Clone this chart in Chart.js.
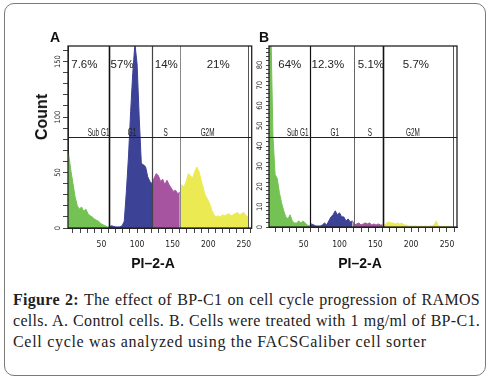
<!DOCTYPE html>
<html><head><meta charset="utf-8">
<script src="https://cdn.jsdelivr.net/npm/chart.js@4.4.1/dist/chart.umd.min.js"></script>
<style>
html,body{margin:0;padding:0;background:#fff;}
#fig{position:relative;width:489px;height:380px;overflow:hidden;background:#fff;font-family:"Liberation Sans",Arial,sans-serif;color:#111;}
#frame{position:absolute;left:4px;top:3px;width:480px;height:371px;border:1.5px solid #7a7a7a;border-radius:10px;}
canvas{position:absolute;top:0;}
#cA{left:0;} #cB{left:240px;}
.panel{position:absolute;font-weight:bold;font-size:14px;line-height:14px;}
.xt{position:absolute;top:255px;font-weight:bold;font-size:14px;line-height:16px;transform:translateX(-50%);white-space:nowrap;}
#count{position:absolute;left:42px;top:117px;transform:translate(-50%,-50%) rotate(-90deg);font-weight:bold;font-size:16px;line-height:16px;white-space:nowrap;}
#cap{position:absolute;left:13px;top:289px;width:467px;font-family:"Liberation Serif","Times New Roman",serif;font-size:16px;letter-spacing:0.3px;line-height:21px;color:#222;}
#cap div{white-space:nowrap;}
#cap .j{text-align:justify;text-align-last:justify;}
#cap .l3{letter-spacing:0.7px;}
</style></head>
<body>
<div id="fig">
  <div id="frame"></div>
  <canvas id="cA" width="258" height="280"></canvas>
  <canvas id="cB" width="249" height="280"></canvas>
  <div class="panel" style="left:50px;top:30px;">A</div>
  <div class="panel" style="left:259px;top:30px;">B</div>
  <div id="count">Count</div>
  <div class="xt" style="left:153px;">PI–2-A</div>
  <div class="xt" style="left:360px;">PI–2-A</div>
  <div id="cap">
    <div class="j"><b>Figure 2:</b> The effect of BP-C1 on cell cycle progression of RAMOS</div>
    <div class="j">cells. A. Control cells. B. Cells were treated with 1 mg/ml of BP-C1.</div>
    <div class="l3">Cell cycle was analyzed using the FACSCaliber cell sorter</div>
  </div>
</div>
<script>
// ---- data ----
const channels = [1,4,7,10,13,16,19,22,25,28,
  31,34,37,40,43,46,49,52,55,58,
  61,64,67,70,73,76,79,82,85,88,
  91,94,97,100,103,106,109,112,115,118,
  121,124,127,130,133,136,139,142,145,148,
  151,154,157,160,163,166,169,172,175,178,
  181,184,187,190,193,196,199,202,205,208,
  211,214,217,220,223,226,229,232,235,238,
  241,244,247,250,253,256];
const countsA = [50,66,52,40,28,20,17,19,15,17,
  13,11,10,8,7,6,4,3,2,1,
  1,2,1.5,1,1,1,2,6,33,65,
  105,140,166,148,100,58,57,55,46,42,
  40,45,49,47,42,44,39,43,39,36,
  33,34,31,32,39,37,42,49,47,45,
  51,55,51,43,36,29,26,22,16,12,
  10,11,10,12,11,12,13,11,12,13,
  14,12,13,14,11,10];
const countsB = [100,100,45,26,24,17,12,8,5,4,
  6,3,2,2,3,2,3,2,1,0.5,
  1.5,1,0.5,0.5,0.5,1,2,1,3,5,
  6,8,6,7,5,5,3,4,2.5,3,
  1,1.5,2,1,1.5,2,1.5,2,1,1.5,
  1,1.5,1,1,1,2,2.5,2,2,1.5,
  2,1.5,2,1,1,0.5,0.5,0.5,0.5,0.5,
  0.3,0.5,0.3,0.5,0.3,0.5,0.5,1,3,0.5,
  0.3,0.3,0.3,0.3,0.3,0.3];
const gateNames = ['Sub G1','G1','S','G2M'];
const gatesA = [61.1,121.3,160.7];
const gatesB = [58.5,120.4,161];
const gateLevelA = 82;
const gateLevelB = 44.6;
const percentA = ['7.6%','57%','14%','21%'];
const percentB = ['64%','12.3%','5.1%','5.7%'];
const xTickLabels = [50,100,150,200,250];
const yTickLabelsA = [0,50,100,150];
const yTickLabelsB = [0,10,20,30,40,50,60,70,80];

// ---- styling ----
const gateColors = ['rgb(116,194,84)','rgb(60,66,150)','rgb(166,84,160)','rgb(236,234,82)'];
const narrow = "'Liberation Sans Narrow','DejaVu Sans Condensed','Liberation Sans',Arial,sans-serif";

function splitByGate(counts, gates){
  const bounds = [-Infinity, ...gates, Infinity];
  const sets = [];
  for (let g = 0; g < 4; g++) {
    const pts = [];
    channels.forEach((c, i) => { if (c >= bounds[g] && c < bounds[g+1]) pts.push({x:c, y:counts[i]}); });
    const first = channels.findIndex(c => c >= bounds[g]);
    if (g > 0 && first > 0) pts.unshift({x:channels[first-1], y:counts[first-1]});
    sets.push({data:pts, backgroundColor:gateColors[g], borderColor:gateColors[g], borderWidth:1,
      fill:'origin', pointRadius:0, tension:0, clip:0});
  }
  return sets;
}

const gatePlugin = {
  id:'gates',
  afterDatasetsDraw(chart, args, o){
    const {ctx, chartArea:a, scales:{x, y}} = chart;
    ctx.save();
    const vline = (px, col, w) => { ctx.beginPath(); ctx.strokeStyle = col; ctx.lineWidth = w; ctx.moveTo(px, a.top); ctx.lineTo(px, a.bottom); ctx.stroke(); };
    o.gates.forEach((g, i) => vline(Math.round(x.getPixelForValue(g)) + 0.5, o.lineColors[i], o.lineWidths[i]));
    vline(Math.round(x.getPixelForValue(o.innerRight)) + 0.5, '#555', 1);
    const py = Math.round(y.getPixelForValue(o.level)) + 0.5;
    ctx.beginPath(); ctx.strokeStyle = '#222'; ctx.lineWidth = 1.2; ctx.moveTo(a.left, py); ctx.lineTo(a.right, py); ctx.stroke();
    ctx.strokeStyle = '#222'; ctx.lineWidth = 1.3;
    ctx.strokeRect(a.left, a.top, a.right - a.left, a.bottom - a.top);
    ctx.fillStyle = '#222';
    ctx.font = "11.5px 'Liberation Sans',Arial,sans-serif";
    ctx.textAlign = 'center'; ctx.textBaseline = 'middle';
    o.percents.forEach((t, i) => ctx.fillText(t, x.getPixelForValue(o.pctX[i]), a.top + 18.5));
    ctx.font = "11px 'Liberation Sans',Arial,sans-serif";
    ctx.textBaseline = 'alphabetic';
    o.names.forEach((t, i) => { ctx.save(); ctx.translate(x.getPixelForValue(o.nameX[i]), py - 1.5); ctx.scale(0.58, 1); ctx.fillText(t, 0, 0); ctx.restore(); });
    ctx.restore();
  }
};

function makePanel(id, counts, cfg){
  new Chart(document.getElementById(id), {
    type:'line',
    data:{datasets:splitByGate(counts, cfg.gates)},
    plugins:[gatePlugin],
    options:{
      responsive:false, animation:false, devicePixelRatio:1,
      layout:{padding:{left:0, top:46, right:cfg.padRight, bottom:0}},
      plugins:{legend:{display:false}, tooltip:{enabled:false},
        gates:{gates:cfg.gates, level:cfg.level, lineColors:cfg.lineColors, lineWidths:cfg.lineWidths,
          innerRight:cfg.innerRight, percents:cfg.percents, pctX:cfg.pctX, names:gateNames, nameX:cfg.nameX}},
      scales:{
        x:{type:'linear', min:cfg.xMin, max:cfg.xMax,
          border:{display:true, color:'#222', width:1},
          grid:{display:true, drawOnChartArea:false, drawTicks:true, tickLength:5, color:'#444'},
          ticks:{stepSize:10, includeBounds:false, autoSkip:false, minRotation:0, maxRotation:0, padding:cfg.xPad,
            color:'#222', font:{family:narrow, size:8.5},
            callback:v => xTickLabels.includes(v) ? String(v) : ''},
          afterFit:s => { s.height = cfg.xAxisH; }},
        y:{min:0, max:cfg.yMax,
          border:{display:true, color:'#222', width:1},
          grid:{display:true, drawOnChartArea:false, drawTicks:true, tickLength:cfg.yTick, color:'#444'},
          ticks:{stepSize:cfg.yStep, includeBounds:false, autoSkip:false, minRotation:90, maxRotation:90,
            crossAlign:'center', padding:cfg.yPad, color:'#222', font:{family:narrow, size:7.5},
            callback:v => cfg.yLabels.includes(v) ? String(v) : ''},
          afterFit:s => { s.width = cfg.yAxisW; }}
      }
    }
  });
}

makePanel('cA', countsA, {
  gates:gatesA, level:gateLevelA, percents:percentA,
  lineColors:['#111','#444','#888'], lineWidths:[1.6,1.2,1],
  innerRight:255.5, pctX:[26,79,141,214], nameX:[46,93,140,199],
  xMin:3, xMax:261, yMax:164, yStep:10, yTick:5, yPad:-1, yLabels:yTickLabelsA,
  padRight:4, yAxisW:68, xAxisH:52, xPad:7
});
makePanel('cB', countsB, {
  gates:gatesB, level:gateLevelB, percents:percentB,
  lineColors:['#111','#666','#111'], lineWidths:[1.2,1,1.6],
  innerRight:258.5, pctX:[30.5,83.6,143.8,206.7], nameX:[41.7,93.4,142.4,202.5],
  xMin:1.5, xMax:264, yMax:89.4, yStep:2, yTick:3, yPad:2, yLabels:yTickLabelsB,
  padRight:32, yAxisW:29, xAxisH:53, xPad:8
});
</script>
</body></html>
